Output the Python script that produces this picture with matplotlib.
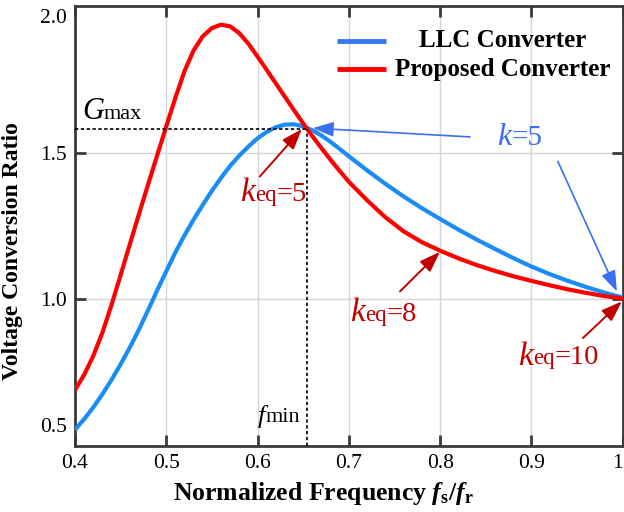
import matplotlib
matplotlib.use("Agg")
import matplotlib.pyplot as plt

plt.rcParams.update({
    "font.family": "Liberation Serif",
    "mathtext.fontset": "custom",
    "mathtext.rm": "Liberation Serif",
    "mathtext.it": "Liberation Serif:italic",
    "mathtext.bf": "Liberation Serif:bold",
    "mathtext.bfit": "Liberation Serif:bold:italic",
})

# normalized switching frequency fs/fr
freq = [0.40, 0.41, 0.42, 0.43, 0.44, 0.45, 0.46, 0.47, 0.48, 0.49,
        0.50, 0.51, 0.52, 0.53, 0.54, 0.55, 0.56, 0.57, 0.58, 0.59,
        0.60, 0.61, 0.62, 0.63, 0.64, 0.65, 0.66, 0.67, 0.68, 0.69,
        0.70, 0.72, 0.74, 0.76, 0.78, 0.80, 0.82, 0.84, 0.86, 0.88,
        0.90, 0.92, 0.94, 0.96, 0.98, 1.00]

gain_llc = [0.555, 0.591, 0.631, 0.676, 0.725, 0.778, 0.835, 0.896, 0.962, 1.030,
            1.095, 1.160, 1.218, 1.272, 1.322, 1.370, 1.414, 1.455, 1.490, 1.521,
            1.549, 1.571, 1.587, 1.596, 1.597, 1.590, 1.577, 1.559, 1.537, 1.513,
            1.488, 1.440, 1.394, 1.351, 1.311, 1.274, 1.238, 1.204, 1.172, 1.141,
            1.112, 1.086, 1.063, 1.042, 1.023, 1.006]

gain_proposed = [0.690, 0.742, 0.806, 0.885, 0.980, 1.082, 1.186, 1.289, 1.390, 1.490,
                 1.589, 1.687, 1.778, 1.849, 1.897, 1.925, 1.937, 1.931, 1.908, 1.872,
                 1.828, 1.783, 1.737, 1.691, 1.645, 1.600, 1.557, 1.516, 1.476, 1.438,
                 1.401, 1.338, 1.280, 1.232, 1.195, 1.166, 1.140, 1.117, 1.097, 1.079,
                 1.063, 1.048, 1.034, 1.022, 1.011, 1.003]

x_ticks = [0.4, 0.5, 0.6, 0.7, 0.8, 0.9, 1.0]
x_ticklabels = ["0.4", "0.5", "0.6", "0.7", "0.8", "0.9", "1"]
y_ticks = [1.0, 1.5]
y_ticklabels = ["1.0", "1.5"]
y_edge_ticks = [0.571, 1.966]
y_edge_labels = ["0.5", "2.0"]

g_max = 1.58
f_min = 0.654

series_names = ["LLC Converter", "Proposed Converter"]

BLUE = "#1a8cf5"
RED = "#ff0000"
DARK_RED = "#c00000"
ANNO_BLUE = "#3a6ff2"
SPINE = "#3a3a3a"


def piece_label(ax, x, y, parts, color):
    """Write a label made of pieces with different sizes/styles on one baseline."""
    prev = None
    prev_size = None
    for txt, size, style in parts:
        if prev is None:
            prev = ax.text(x, y, txt, fontsize=size, style=style, color=color,
                           ha="left", va="baseline")
        else:
            prev = ax.annotate(txt, xy=(1, 0), xycoords=prev,
                               xytext=(0, 0.22 * prev_size), textcoords="offset points",
                               fontsize=size, style=style, color=color,
                               ha="left", va="baseline")
        prev_size = size
    return prev


def arrow(ax, head, tail, color, lw=1.4):
    ax.annotate("", xy=head, xytext=tail,
                arrowprops=dict(arrowstyle="-|>,head_length=0.7,head_width=0.25",
                                color=color, lw=lw, mutation_scale=18,
                                shrinkA=0, shrinkB=0))


fig = plt.figure(figsize=(6.24, 5.12), dpi=100)
ax = fig.add_axes([0.120, 0.129, 0.878, 0.859])

ax.plot(freq, gain_llc, color=BLUE, lw=3, solid_capstyle="butt", zorder=3)
ax.plot(freq, gain_proposed, color=RED, lw=3, solid_capstyle="butt", zorder=4)

# Gmax / fmin guide lines
ax.plot([0.4, f_min], [g_max, g_max], color="black", lw=1.2, ls=(0, (2, 1.5)), zorder=5)
ax.plot([f_min, f_min], [0.5, g_max], color="black", lw=1.2, ls=(0, (2, 1.5)), zorder=5)

ax.set_xlim(0.4, 1.0)
ax.set_ylim(0.5, 2.0)
ax.set_xticks(x_ticks, x_ticklabels)
ax.set_yticks(y_ticks, y_ticklabels)
ax.set_yticks(y_edge_ticks, y_edge_labels, minor=True)
ax.tick_params(axis="both", which="major", direction="in", length=8, width=2,
               color=SPINE, labelsize=15.5, top=True, right=True, pad=6)
ax.tick_params(axis="y", which="minor", length=0, labelsize=15.5, pad=6)
ax.get_xticklabels()[-1].set_horizontalalignment("right")
ax.grid(True, which="major", color="#d6d6d6", lw=1)
ax.set_axisbelow(True)
for s in ax.spines.values():
    s.set_color(SPINE)
    s.set_linewidth(2)

ax.set_xlabel(r"Normalized Frequency $\mathbfit{f}_{\mathbf{s}}$/$\mathbfit{f}_{\mathbf{r}}$",
              fontsize=18.5, fontweight="bold")
ax.set_ylabel("Voltage Conversion Ratio", fontsize=17, fontweight="bold")
ax.xaxis.set_label_coords(0.454, -0.077)
ax.yaxis.set_label_coords(-0.095, 0.442)

# legend drawn by hand so the labels are centred like the original
for ypos, col, name in [(0.921, "#3478f6", series_names[0]), (0.857, RED, series_names[1])]:
    ax.plot([0.478, 0.567], [ypos, ypos], color=col, lw=3.5, transform=ax.transAxes,
            solid_capstyle="butt")
    ax.text(0.781, ypos, name, transform=ax.transAxes, ha="center", va="center",
            fontsize=18, fontweight="bold")

# annotations
piece_label(ax, 0.4077, 1.615, [("G", 22, "italic"), ("max", 16, "normal")], "black")
piece_label(ax, 0.6004, 0.579, [("f", 19, "italic"), ("min", 16, "normal")], "black")

red_parts = [("k", 24, "italic"), ("eq", 16.5, "normal")]
piece_label(ax, 0.5807, 1.334, red_parts + [("=5", 20.5, "normal")], DARK_RED)
piece_label(ax, 0.7012, 0.926, red_parts + [("=8", 20.5, "normal")], DARK_RED)
piece_label(ax, 0.8852, 0.777, red_parts + [("=10", 20.5, "normal")], DARK_RED)
piece_label(ax, 0.8622, 1.525, [("k", 23, "italic"), ("=5", 21, "normal")], ANNO_BLUE)

arrow(ax, (0.6486, 1.581), (0.6026, 1.419), DARK_RED)
arrow(ax, (0.7998, 1.162), (0.7560, 1.027), DARK_RED)
arrow(ax, (0.9990, 0.993), (0.9564, 0.868), DARK_RED)
arrow(ax, (0.6607, 1.584), (0.8326, 1.554), ANNO_BLUE, lw=1.2)
arrow(ax, (0.9936, 1.027), (0.9290, 1.470), ANNO_BLUE, lw=1.2)

fig.savefig("out.png", dpi=100)
